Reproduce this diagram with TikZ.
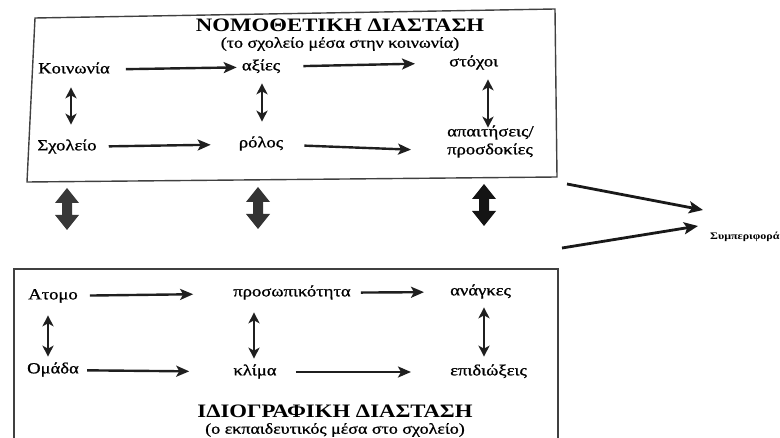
\documentclass[tikz,border=0pt]{standalone}
\usepackage{fontspec}
\setmainfont{Liberation Serif}[FakeStretch=1.2]
\newfontfamily\lblfont{Liberation Serif}[FakeStretch=1.2,FakeBold=1]
\usetikzlibrary{arrows.meta,calc}
\begin{document}
\begin{tikzpicture}[x=1pt,y=-1pt,
  lbl/.style={inner sep=0pt, font=\lblfont\fontsize{15.5}{18}\selectfont, text height=10.5pt, text depth=3.75pt},
  ttl/.style={inner sep=0pt, font=\bfseries\fontsize{19}{21}\selectfont},
  sub/.style={inner sep=0pt, font=\lblfont\fontsize{15}{18}\selectfont},
  harr/.style={line width=2.4pt, black!88, -{Stealth[length=13pt,width=11pt,inset=3pt]}},
  varr/.style={line width=2.5pt, black!88, {Stealth[length=11pt,width=11pt,inset=3pt]}-{Stealth[length=11pt,width=11pt,inset=3pt]}},
  barr/.style={line width=2.8pt, black!90, -{Stealth[length=14pt,width=12pt,inset=3pt]}},
  frame/.style={line width=1.4pt, black!75},
]
\useasboundingbox (0,0) rectangle (780,438);

% frames
\draw[frame] (35,18) -- (555,9) -- (557,177) -- (27,182) -- cycle;
\draw[frame] (14,438) -- (14,269) -- (558,269) -- (558,438);

% top box
\node[ttl] (t1) at (340,25) {ΝΟΜΟΘΕΤΙΚΗ ΔΙΑΣΤΑΣΗ};
\node[sub] (s1) at (340,44) {(το σχολείο μέσα στην κοινωνία)};
\node[lbl] (koin) at (74,70) {Κοινωνία};
\node[lbl] (axies) at (261,67) {αξίες};
\node[lbl,anchor=west] (stoxoi) at (449,63) {στόχοι};
\node[lbl] (sxol) at (67,147) {Σχολείο};
\node[lbl] (rolos) at (261,144) {ρόλος};
\node[lbl,anchor=west,align=left] (apait) at (447,151) {απαιτήσεις/\\προσδοκίες};

\draw[harr, shorten <=16pt, shorten >=5pt] (koin) -- (axies);
\draw[harr, shorten <=23pt, shorten >=34pt] (axies) -- (stoxoi.west);
\draw[harr, shorten <=12pt, shorten >=28pt] (sxol) -- (rolos);
\draw[harr, shorten <=21pt, shorten >=36pt] (rolos) -- (apait.west);

\coordinate (vx1) at (71,0);
\coordinate (vx2) at (262,0);
\coordinate (vx3) at (488,0);
\draw[varr, shorten <=10pt, shorten >=15pt] (vx1 |- koin.south) -- (vx1 |- sxol.north);
\draw[varr, shorten <=9pt, shorten >=15pt] (vx2 |- axies.south) -- (vx2 |- rolos.north);
\draw[varr, shorten <=9pt, shorten >=16pt] (vx3 |- stoxoi.south) -- (vx3 |- apait.north);

% big double arrows
\foreach \cx/\ty/\by/\col in {67/188/230/black!78, 258/187/229/black!80, 484/184/226/black!92} {
  \fill[\col] (\cx,\ty) -- ++(12,15) -- ++(-7,0) -- (\cx+5,\by-15) -- ++(7,0)
     -- (\cx,\by) -- ++(-12,-15) -- ++(7,0) -- (\cx-5,\ty+15) -- ++(-7,0) -- cycle;
}

% behaviour
\node[inner sep=0pt, anchor=west, font=\bfseries\fontsize{10}{12}\selectfont] (beh) at (710,237) {Συμπεριφορά};
\coordinate (a1) at (567,184);
\coordinate (a2) at (562,248);
\coordinate (e1) at ($(beh.west)+(-7,-27)$);
\coordinate (e2) at ($(beh.west)+(-12,-11)$);
\draw[barr] (a1) -- (e1);
\draw[barr] (a2) -- (e2);

% bottom box
\node[lbl] (atomo) at (53,296) {Ατομο};
\node[lbl] (pros) at (292,293) {προσωπικότητα};
\node[lbl,anchor=west] (anag) at (450,292) {ανάγκες};
\node[lbl] (omada) at (53,370) {Ομάδα};
\node[lbl] (klima) at (255,372) {κλίμα};
\node[lbl,anchor=west] (epid) at (450,372) {επιδιώξεις};

\draw[harr, shorten <=12pt, shorten >=40pt] (atomo) -- (pros);
\draw[harr, shorten <=10pt, shorten >=26pt] (pros) -- (anag.west);
\draw[harr, shorten <=8pt, shorten >=44pt] (omada) -- (klima);
\draw[harr, shorten <=19pt, shorten >=39pt] (klima) -- (epid.west);

\coordinate (wx1) at (48,0);
\coordinate (wx2) at (254,0);
\coordinate (wx3) at (484,0);
\draw[varr, shorten <=12pt, shorten >=6pt] (wx1 |- atomo.south) -- (wx1 |- omada.north);
\draw[varr, shorten <=12pt, shorten >=6pt] (wx2 |- pros.south) -- (wx2 |- klima.north);
\draw[varr, shorten <=8pt, shorten >=8pt] (wx3 |- anag.south) -- (wx3 |- epid.north);

\node[ttl] (t2) at (335,411) {ΙΔΙΟΓΡΑΦΙΚΗ ΔΙΑΣΤΑΣΗ};
\node[sub] (s2) at (335,430) {(ο εκπαιδευτικός μέσα στο σχολείο)};
\end{tikzpicture}
\end{document}
